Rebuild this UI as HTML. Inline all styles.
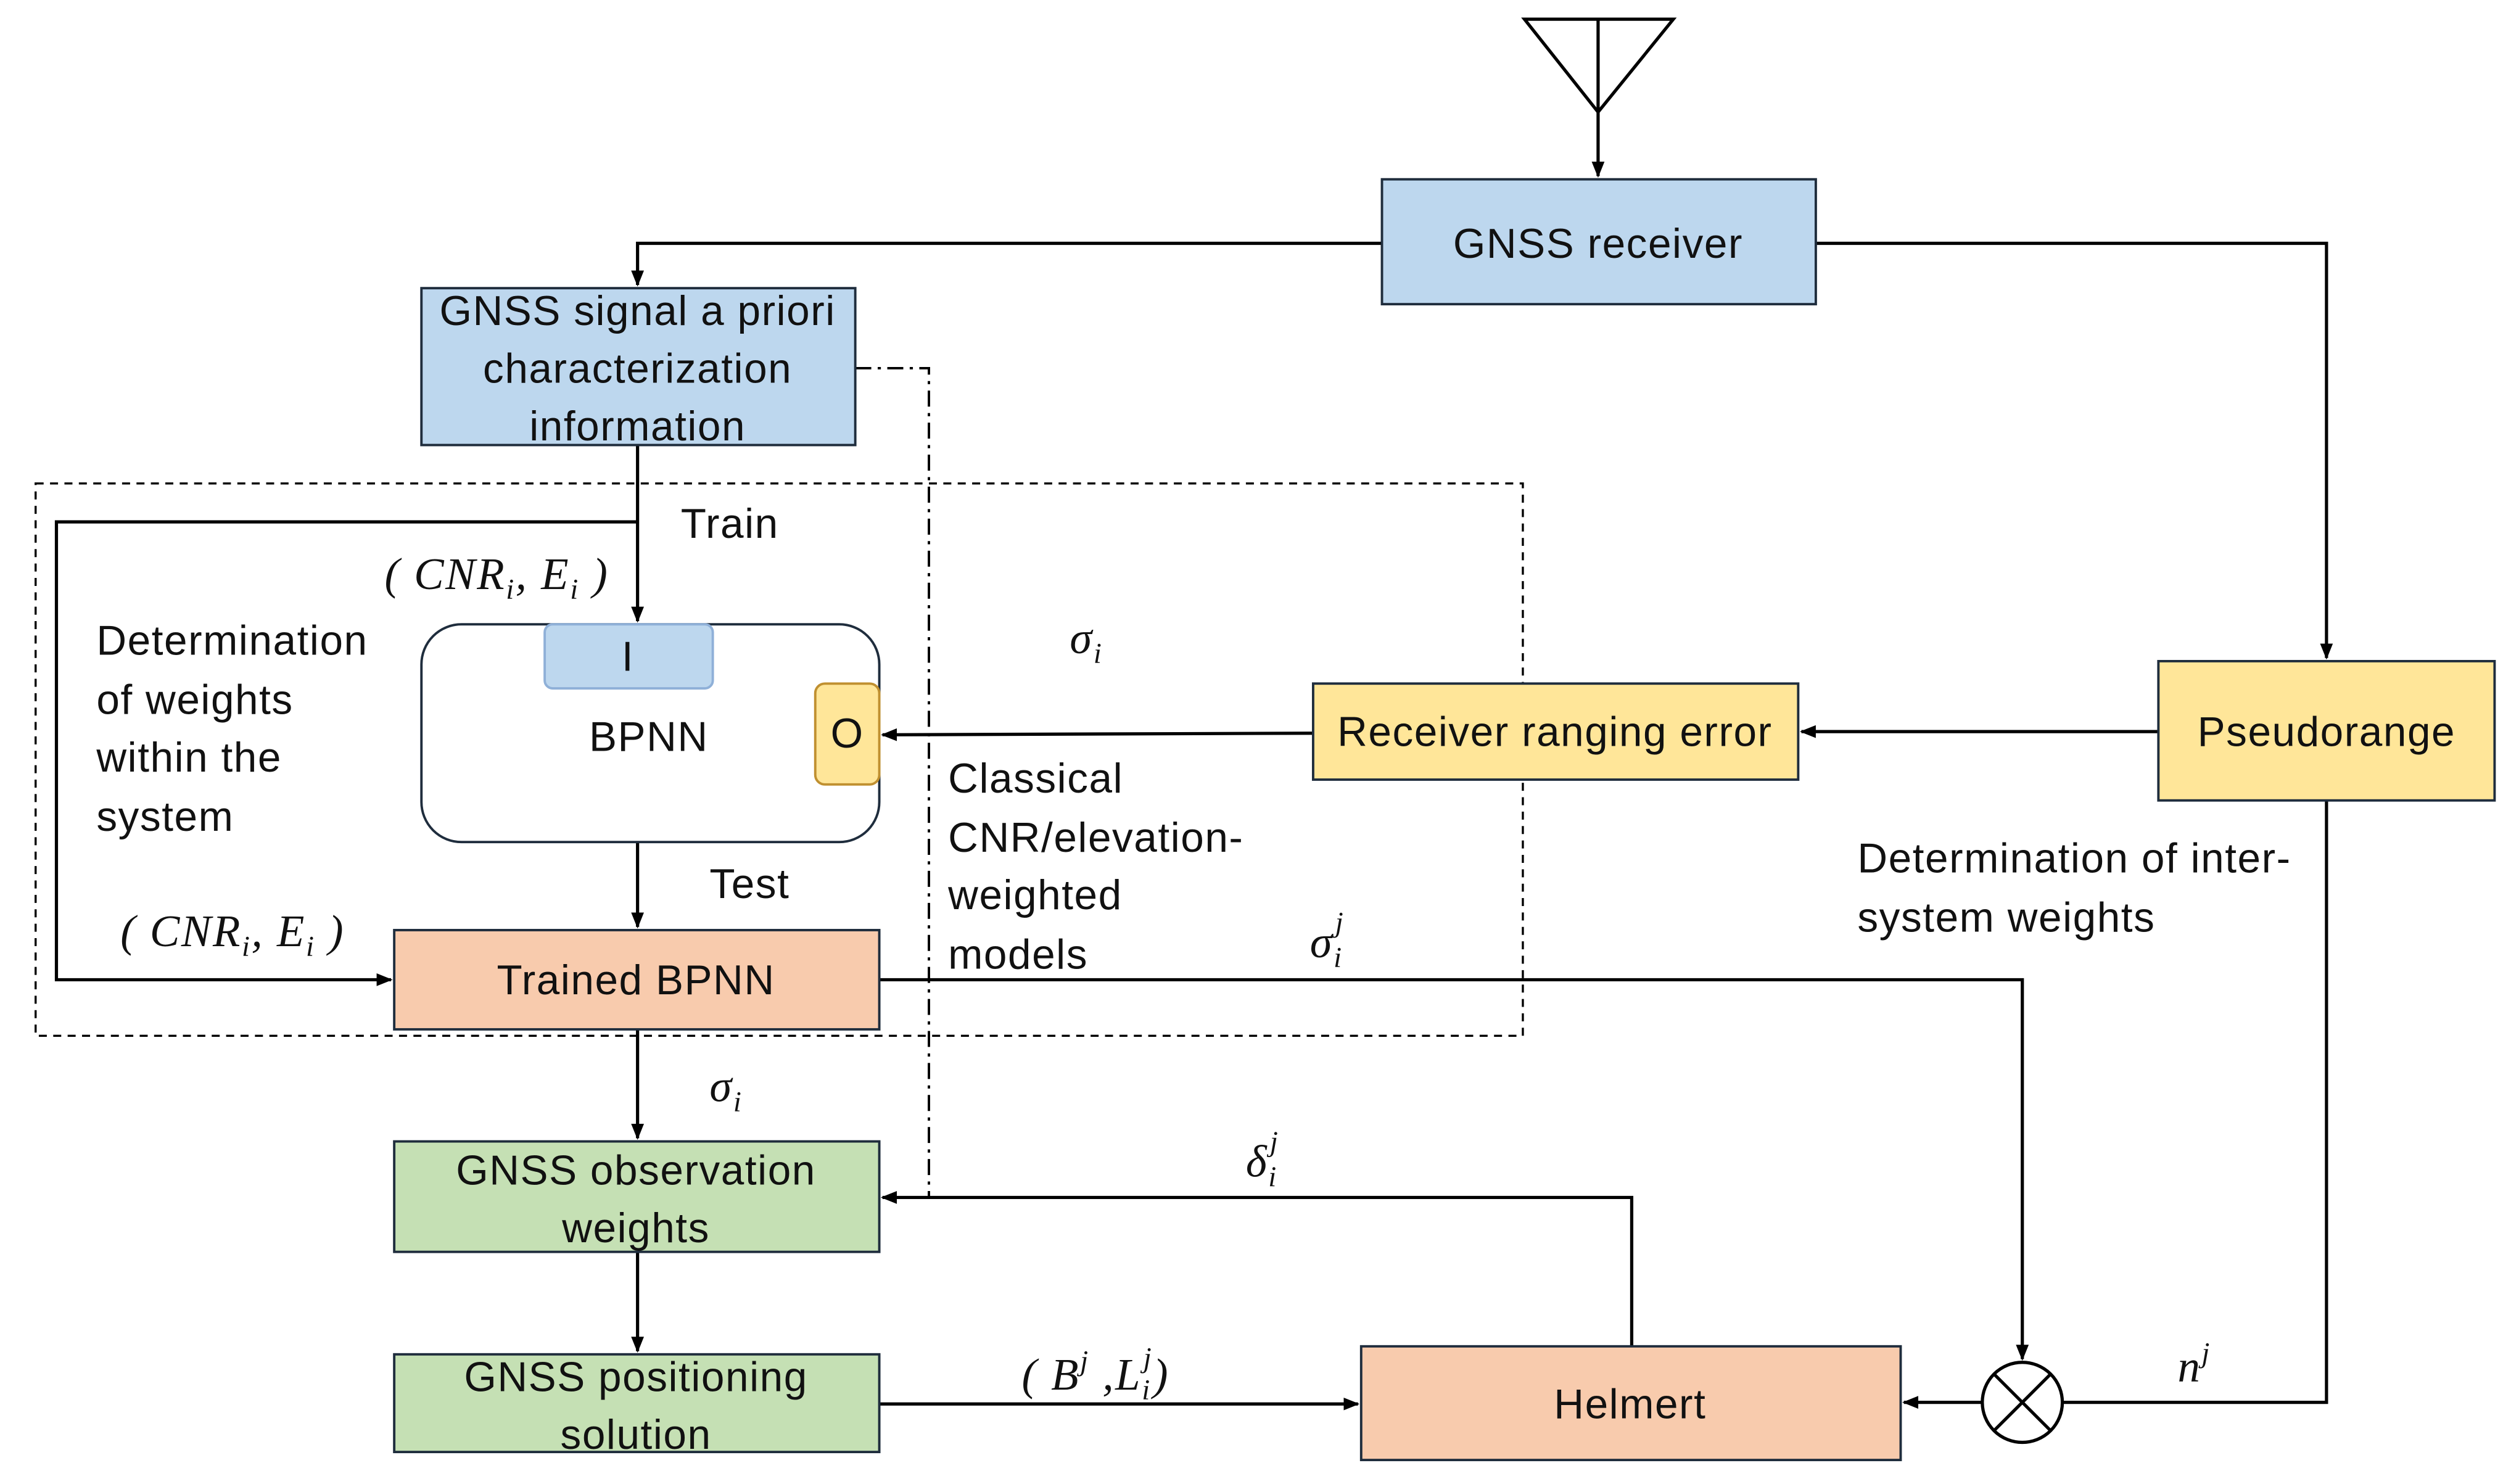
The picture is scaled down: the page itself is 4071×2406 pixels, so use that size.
<!DOCTYPE html>
<html><head><meta charset="utf-8"><style>
html,body{margin:0;padding:0;background:#fff;}
svg{display:block;}
text{font-family:"Liberation Sans",sans-serif;font-size:26px;letter-spacing:0.6px;fill:#111;}
.m{font-family:"Liberation Serif",serif;font-style:italic;font-size:28px;letter-spacing:1px;}
.s{font-size:18px;}
</style></head><body>
<svg width="4071" height="2406" viewBox="0 0 1568 927" xmlns="http://www.w3.org/2000/svg">
<defs><marker id="a" markerWidth="10" markerHeight="10" refX="9" refY="5" orient="auto" markerUnits="userSpaceOnUse"><path d="M0,1 L10,5 L0,9 z" fill="#000"/></marker></defs>
<g stroke="#000" stroke-width="2" fill="none">
<path d="M952,12 L1045,12 L998,70 Z"/>
<path d="M998,12 L998,110" marker-end="url(#a)"/>
<path d="M863,152 L398,152 L398,178" marker-end="url(#a)"/>
<path d="M1134,152 L1453,152 L1453,411" marker-end="url(#a)"/>
<path d="M534,230 L580,230 L580,748 L551,748" stroke-dasharray="10,4,2,4" stroke-width="1.5" marker-end="url(#a)"/>
<rect x="22" y="302" width="929" height="345" stroke-dasharray="5,4" stroke-width="1.3"/>
<path d="M398,278 L398,388" marker-end="url(#a)"/>
<path d="M398,326 L35,326 L35,612 L244,612" marker-end="url(#a)"/>
<path d="M1348,457 L1125,457" marker-end="url(#a)"/>
<path d="M820,458 L551,459" marker-end="url(#a)"/>
<path d="M398,526 L398,579" marker-end="url(#a)"/>
<path d="M549,612 L1263,612 L1263,849" marker-end="url(#a)"/>
<path d="M1453,500 L1453,876 L1288,876"/>
<path d="M1238,876 L1189,876" marker-end="url(#a)"/>
<path d="M1019,841 L1019,748 L551,748" marker-end="url(#a)"/>
<path d="M398,643 L398,711" marker-end="url(#a)"/>
<path d="M398,782 L398,844" marker-end="url(#a)"/>
<path d="M549,877 L848,877" marker-end="url(#a)"/>
<circle cx="1263" cy="876" r="25" fill="#fff"/>
<path d="M1245,858 L1281,894 M1281,858 L1245,894"/>
</g>
<g stroke="#1f2d3d" stroke-width="1.5">
<rect x="863" y="112" width="271" height="78" fill="#bdd7ee"/>
<rect x="263" y="180" width="271" height="98" fill="#bdd7ee"/>
<rect x="263" y="390" width="286" height="136" rx="25" fill="#fff"/>
<rect x="820" y="427" width="303" height="60" fill="#ffe699"/>
<rect x="1348" y="413" width="210" height="87" fill="#ffe699"/>
<rect x="246" y="581" width="303" height="62" fill="#f8cbad"/>
<rect x="246" y="713" width="303" height="69" fill="#c5e0b4"/>
<rect x="246" y="846" width="303" height="61" fill="#c5e0b4"/>
<rect x="850" y="841" width="337" height="71" fill="#f8cbad"/>
</g>
<rect x="340" y="390" width="105" height="40" rx="5" fill="#bdd7ee" stroke="#8fb0d8" stroke-width="1.5"/>
<rect x="509" y="427" width="40" height="63" rx="6" fill="#ffe699" stroke="#c09030" stroke-width="1.5"/>
<g text-anchor="middle">
<text x="998" y="161">GNSS receiver</text>
<text x="398" y="203">GNSS signal a priori</text>
<text x="398" y="239">characterization</text>
<text x="398" y="275">information</text>
<text x="392" y="419">I</text>
<text x="529" y="467">O</text>
<text x="405" y="469">BPNN</text>
<text x="971" y="466">Receiver ranging error</text>
<text x="1453" y="466">Pseudorange</text>
<text x="397" y="621">Trained BPNN</text>
<text x="397" y="740">GNSS observation</text>
<text x="397" y="776">weights</text>
<text x="397" y="869">GNSS positioning</text>
<text x="397" y="905">solution</text>
<text x="1018" y="886">Helmert</text>
</g>
<text x="425" y="336">Train</text>
<text x="443" y="561">Test</text>
<text x="60" y="409">Determination</text>
<text x="60" y="446">of weights</text>
<text x="60" y="482">within the</text>
<text x="60" y="519">system</text>
<text x="592" y="495">Classical</text>
<text x="592" y="532">CNR/elevation-</text>
<text x="592" y="568">weighted</text>
<text x="592" y="605">models</text>
<text x="1160" y="545">Determination of inter-</text>
<text x="1160" y="582">system weights</text>
<text class="m" x="240" y="368">( CNR<tspan class="s" dy="6">i</tspan><tspan dy="-6">, E</tspan><tspan class="s" dy="6">i</tspan><tspan dy="-6"> )</tspan></text>
<text class="m" x="75" y="591">( CNR<tspan class="s" dy="6">i</tspan><tspan dy="-6">, E</tspan><tspan class="s" dy="6">i</tspan><tspan dy="-6"> )</tspan></text>
<text class="m" x="668" y="408">σ<tspan class="s" dy="6">i</tspan></text>
<text class="m" x="818" y="598">σ<tspan class="s" dy="6">i</tspan><tspan class="s" dx="-5" dy="-22">j</tspan></text>
<text class="m" x="443" y="688">σ<tspan class="s" dy="6">i</tspan></text>
<text class="m" x="778" y="735">δ<tspan class="s" dy="6">i</tspan><tspan class="s" dx="-5" dy="-22">j</tspan></text>
<text class="m" x="1360" y="863">n<tspan class="s" dy="-12">j</tspan></text>
<text class="m" x="638" y="868">( B<tspan class="s" dy="-12">j</tspan><tspan dy="12"> ,L</tspan><tspan class="s" dy="6">i</tspan><tspan class="s" dx="-5" dy="-20">j</tspan><tspan dy="14">)</tspan></text>
</svg>
</body></html>
